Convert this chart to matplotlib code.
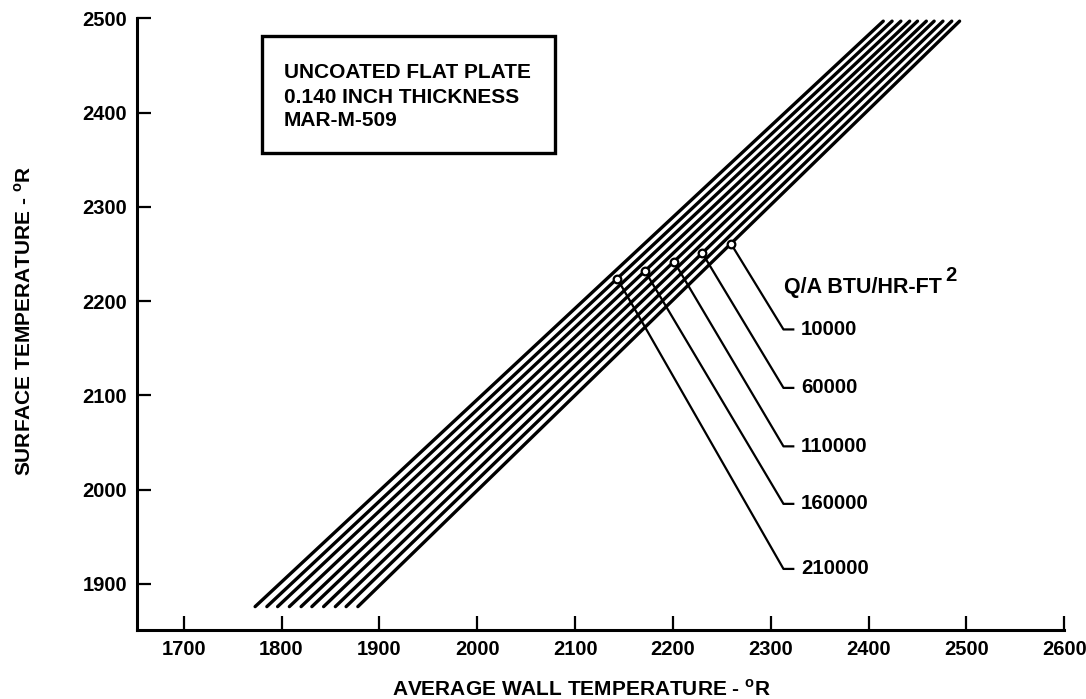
import numpy as np
import matplotlib
matplotlib.use("Agg")
import matplotlib.pyplot as plt
from matplotlib.patches import Rectangle

plt.rcParams['font.family'] = ['Liberation Sans', 'DejaVu Sans']
plt.rcParams['font.weight'] = 'bold'
plt.rcParams['mathtext.fontset'] = 'custom'
plt.rcParams['mathtext.rm'] = 'Liberation Sans:bold'
plt.rcParams['mathtext.bf'] = 'Liberation Sans:bold'

# ---- data ----
q_values = [235000, 210000, 185000, 160000, 135000, 110000, 85000, 60000, 35000, 10000]
surface_temp = [1876, 2497]                       # surface temperature at line ends
wall_at_bottom = [1773, 1785, 1796, 1808, 1820, 1831, 1843, 1855, 1866, 1878]
wall_at_top = [2415, 2424, 2433, 2442, 2450, 2459, 2467, 2476, 2485, 2493]

labeled_q = [10000, 60000, 110000, 160000, 210000]
label_text = ['10000', '60000', '110000', '160000', '210000']
dot_surface = [2261, 2251, 2242, 2232, 2224]       # where leader touches its curve
label_surface = [2170, 2108, 2046, 1985, 1916]     # label vertical positions

x_ticks = [1700, 1800, 1900, 2000, 2100, 2200, 2300, 2400, 2500, 2600]
y_ticks = [1900, 2000, 2100, 2200, 2300, 2400, 2500]

box_lines = ['UNCOATED FLAT PLATE', '0.140 INCH THICKNESS', 'MAR-M-509']

fig = plt.figure(figsize=(10.86, 6.99), dpi=100)
ax = fig.add_axes([0.1259, 0.0987, 0.8541, 0.8751])
ax.set_xlim(1652, 2600)
ax.set_ylim(1851.2, 2500)

for xb, xt in zip(wall_at_bottom, wall_at_top):
    ax.plot([xb, xt], surface_temp, color='black', lw=2.4, solid_capstyle='round')

# leaders
bend_x, end_x, text_x = 2313, 2323, 2331
for q, ds, ls, txt in zip(labeled_q, dot_surface, label_surface, label_text):
    i = q_values.index(q)
    dx = np.interp(ds, surface_temp, [wall_at_bottom[i], wall_at_top[i]])
    ax.plot([dx, bend_x, end_x], [ds, ls, ls], color='black', lw=1.6)
    ax.plot([dx], [ds], marker='o', ms=5.5, mfc='white', mec='black', mew=1.6)
    ax.text(text_x, ls, txt, fontsize=14.7, fontweight='bold', va='center', ha='left')

ax.text(2314, 2215, 'Q/A BTU/HR-FT', fontsize=15.5, fontweight='bold', va='center', ha='left')
ax.text(2478, 2227, '2', fontsize=14.5, fontweight='bold', va='center', ha='left')

# box
ax.add_patch(Rectangle((0.1348, 0.7798), 0.451 - 0.1348, 0.9711 - 0.7798,
                       transform=ax.transAxes, fill=False, ec='black', lw=2.4, zorder=3))
for txt, yb in zip(box_lines, [0.9024, 0.8623, 0.8239]):
    ax.text(0.1588, yb, txt, transform=ax.transAxes, fontsize=15, fontweight='bold',
            va='baseline', ha='left')

ax.set_xticks(x_ticks)
ax.set_yticks(y_ticks)
ax.set_xticklabels([str(v) for v in x_ticks])
ax.set_yticklabels([str(v) for v in y_ticks])
ax.tick_params(direction='in', length=10, width=1.6, labelsize=14.5, pad=7)
for lab in ax.get_xticklabels() + ax.get_yticklabels():
    lab.set_fontweight('bold')
for s in ['top', 'right']:
    ax.spines[s].set_visible(False)
for s in ['left', 'bottom']:
    ax.spines[s].set_linewidth(2.2)

fig.text(0.535, 0.0143, r'AVERAGE WALL TEMPERATURE - $^{\mathbf{o}}$R', fontsize=15,
         fontweight='bold', ha='center', va='center')
fig.text(0.022, 0.541, r'SURFACE TEMPERATURE - $^{\mathbf{o}}$R', fontsize=15,
         fontweight='bold', ha='center', va='center', rotation=90)

fig.savefig('out.png', dpi=100, facecolor='white')
